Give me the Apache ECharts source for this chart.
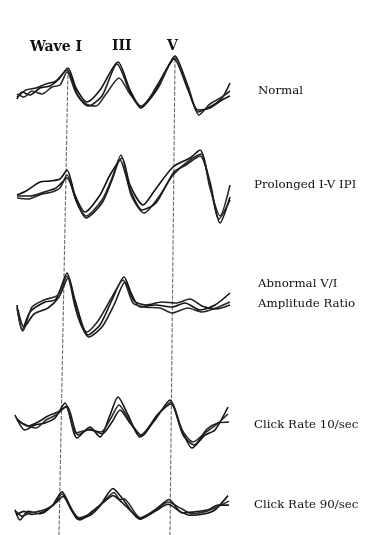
<!DOCTYPE html>
<html>
<head>
<meta charset="utf-8">
<script src="https://cdn.jsdelivr.net/npm/echarts@6/dist/echarts.min.js"></script>
<style>
  html, body { margin: 0; padding: 0; background: #fff; }
  #chart { width: 380px; height: 535px; }
</style>
</head>
<body>
<div id="chart"></div>
<script>
// latency in ms (0-11), amplitude in arbitrary units, 3 sweeps per condition
const conditions = ["Normal", "Prolonged I-V IPI", "Abnormal V/I\nAmplitude Ratio", "Click Rate 10/sec", "Click Rate 90/sec"];
const waveLabels = ["Wave I", "III", "V"];

const normal = [
  [[0.25,-1.1],[0.5,-0.4],[0.9,-0.7],[1.4,0],[1.9,0.2],[2.3,0.8],[2.8,2.0],[3.2,0],[3.75,-1.4],[4.4,-0.2],[5.3,2.6],[5.9,-0.2],[6.45,-1.9],[7.3,0],[8.15,3.2],[8.8,0],[9.3,-2.4],[9.9,-1.9],[10.5,-1.0],[10.9,0.5]],
  [[0.25,-0.6],[0.6,-0.9],[1.0,-0.3],[1.5,-0.6],[2.0,0.1],[2.4,0.3],[2.75,1.6],[3.2,-0.5],[3.7,-1.6],[4.2,-1.8],[4.7,-0.6],[5.35,1.0],[5.9,-0.6],[6.45,-1.8],[7.3,0.2],[8.15,3.0],[8.8,0.2],[9.35,-2.7],[9.9,-1.6],[10.5,-0.9],[10.9,-0.3]],
  [[0.25,-0.9],[0.7,-0.2],[1.2,0],[1.7,0.4],[2.2,0.7],[2.75,1.8],[3.3,-0.8],[3.8,-1.8],[4.5,-0.8],[5.25,2.4],[5.9,-0.4],[6.45,-2.0],[7.3,0.4],[8.1,2.9],[8.8,-0.2],[9.3,-2.2],[9.9,-2.0],[10.5,-1.2],[10.9,-0.8]]
];
const prolonged = [
  [[0.25,-0.5],[0.7,-0.1],[1.4,0.8],[1.9,0.9],[2.4,1.1],[2.75,2.0],[3.15,-0.5],[3.65,-2.2],[4.4,-0.5],[4.9,1.5],[5.5,3.2],[5.9,0.5],[6.55,-1.5],[7.15,0],[8.05,2.3],[8.9,3.2],[9.4,4.0],[9.9,0.5],[10.4,-3.3],[10.9,-0.7]],
  [[0.25,-0.8],[0.8,-0.9],[1.5,-0.4],[2.0,-0.2],[2.4,0.2],[2.75,1.5],[3.2,-1.0],[3.7,-2.6],[4.5,-1.0],[5.0,1.2],[5.45,3.5],[5.95,-0.5],[6.6,-2.3],[7.3,-0.8],[8.05,1.5],[8.9,3.0],[9.45,3.6],[9.9,0.2],[10.4,-2.6],[10.9,0.5]],
  [[0.25,-0.6],[0.9,-0.6],[1.6,-0.2],[2.2,0.2],[2.75,1.2],[3.25,-1.3],[3.7,-2.8],[4.5,-1.3],[5.0,1.0],[5.4,3.0],[5.9,0.1],[6.5,-2.0],[7.2,-1.3],[8.1,1.8],[8.7,2.5],[9.4,3.4],[9.9,0.8],[10.35,-2.9],[10.9,-1.0]]
];
const abnormalRatio = [
  [[0.25,0],[0.5,-2.5],[0.9,-0.7],[1.65,0.3],[2.15,0.5],[2.4,1.5],[2.75,3.2],[3.15,0.5],[3.8,-3.0],[4.4,-2.0],[5.0,0.5],[5.6,2.8],[6.0,1.0],[6.4,-0.2],[7.15,0],[8.0,-0.2],[8.65,0.2],[9.4,-0.5],[10.15,0],[10.9,1.2]],
  [[0.25,-0.3],[0.55,-2.6],[1.0,-0.2],[1.6,0.5],[2.3,1.0],[2.75,2.9],[3.2,-0.5],[3.75,-2.7],[4.3,-1.6],[5.0,0.8],[5.55,2.5],[6.05,0.2],[6.6,-0.2],[7.4,-0.3],[8.0,-0.8],[8.8,-0.3],[9.5,-0.7],[10.2,-0.3],[10.9,0.3]],
  [[0.3,-0.5],[0.6,-2.2],[1.1,-0.9],[1.8,-0.3],[2.35,0.8],[2.8,2.7],[3.3,-1.2],[3.85,-3.2],[4.5,-2.2],[5.1,0],[5.65,2.3],[6.1,0.4],[6.7,0],[7.5,0.3],[8.2,0.2],[8.9,0.6],[9.5,-0.1],[10.2,-0.4],[10.9,0]]
];
const rate10 = [
  [[0.15,0.5],[0.65,-1.0],[1.15,-0.5],[1.65,-0.3],[2.15,0.2],[2.65,1.7],[3.25,-1.8],[3.9,-0.7],[4.4,-1.7],[4.9,0.5],[5.3,2.3],[5.8,0.5],[6.4,-1.7],[7.15,0],[7.9,2.0],[8.4,-0.5],[9.0,-2.8],[9.65,-1.5],[10.15,-1.0],[10.8,1.3]],
  [[0.2,0.2],[0.6,-0.4],[1.2,-0.8],[1.7,0],[2.2,0.5],[2.7,1.3],[3.2,-1.3],[3.8,-1.0],[4.45,-1.2],[4.95,0.2],[5.35,1.5],[5.85,0],[6.45,-1.5],[7.2,0.3],[7.95,1.8],[8.5,-1.0],[9.05,-2.2],[9.7,-1.2],[10.2,-0.5],[10.8,0.6]],
  [[0.25,0],[0.8,-0.6],[1.3,-0.2],[1.8,0.4],[2.3,0.8],[2.75,1.4],[3.3,-1.5],[3.9,-0.9],[4.5,-1.4],[5.0,-0.2],[5.4,1.0],[5.9,-0.3],[6.5,-1.6],[7.25,0.5],[7.95,1.6],[8.55,-1.5],[9.1,-2.5],[9.75,-0.9],[10.3,-0.3],[10.85,-0.2]]
];
const rate90 = [
  [[0.15,-0.8],[0.4,-2.1],[0.8,-1.0],[1.4,-1.3],[2.0,-0.3],[2.5,1.5],[2.9,-0.3],[3.3,-2.0],[3.9,-1.5],[4.4,-0.3],[5.05,1.9],[5.5,0.7],[6.4,-2.0],[7.15,-1.0],[7.8,-0.1],[8.4,-1.0],[8.9,-1.5],[9.65,-1.3],[10.15,-0.8],[10.8,1.0]],
  [[0.2,-1.0],[0.5,-1.6],[0.9,-1.2],[1.5,-0.9],[2.1,-0.1],[2.5,1.2],[3.0,-0.8],[3.35,-1.8],[4.0,-1.2],[4.5,0],[5.1,1.4],[5.4,0.5],[5.6,0.6],[6.4,-1.8],[7.2,-0.8],[7.8,0.2],[8.5,-0.7],[9.0,-1.3],[9.7,-1.0],[10.2,-0.5],[10.85,0.3]],
  [[0.25,-1.4],[0.6,-1.0],[1.0,-1.4],[1.6,-1.0],[2.2,0.1],[2.55,0.9],[3.0,-1.0],[3.4,-2.1],[4.0,-1.0],[4.6,0.2],[5.05,1.0],[5.6,-0.1],[6.45,-1.9],[7.25,-0.6],[7.85,0.5],[8.5,-1.2],[9.0,-1.1],[9.8,-0.8],[10.3,-0.2],[10.85,-0.2]]
];
const panels = [normal, prolonged, abnormalRatio, rate10, rate90];

// the hand-drawn latency guides lean a little: [latency, 0 = bottom .. 1 = top]
const waveIGuide = [[2.8, 0.87], [2.35, 0]];
const waveVGuide = [[8.15, 0.89], [7.9, 0]];

const panelCenters = [88, 190, 305, 420, 512];
const labelCenters = [89, 183, 282, 423, 503];

const chart = echarts.init(document.getElementById("chart"));

const grids = [];
const xAxes = [];
const yAxes = [];
const series = [];

panelCenters.forEach((c, i) => {
  grids.push({ left: 12, width: 220, top: c - 40, height: 80 });
  xAxes.push({ type: "value", gridIndex: i, min: 0, max: 11, show: false });
  yAxes.push({ type: "value", gridIndex: i, min: -4, max: 4, show: false });
  panels[i].forEach((sweep, k) => {
    series.push({
      type: "line",
      xAxisIndex: i,
      yAxisIndex: i,
      data: sweep,
      smooth: 0.25,
      symbol: "none",
      silent: true,
      lineStyle: { color: ["#111", "#2a2a2a", "#1c1c1c"][k], width: 1.6 },
    });
  });
});

// overlay grid for the latency guides
grids.push({ left: 12, width: 220, top: 0, height: 535 });
xAxes.push({ type: "value", gridIndex: 5, min: 0, max: 11, show: false });
yAxes.push({ type: "value", gridIndex: 5, min: 0, max: 1, show: false });
[waveIGuide, waveVGuide].forEach((g) => {
  series.push({
    type: "line",
    xAxisIndex: 5,
    yAxisIndex: 5,
    data: g,
    symbol: "none",
    silent: true,
    z: 1,
    lineStyle: { color: "#6a6a6a", width: 1.1, type: [4, 1.5] },
  });
});

const serif = "'DejaVu Serif', 'Liberation Serif', serif";
const texts = [
  { left: 30, top: 37, text: waveLabels[0], font: "bold 14px " + serif },
  { left: 112, top: 36, text: waveLabels[1], font: "bold 14px " + serif },
  { left: 167, top: 36, text: waveLabels[2], font: "bold 14px " + serif },
];
conditions.forEach((t, i) => {
  const indent = i === 0 || i === 2 ? 258 : 254;
  texts.push({ left: indent, top: labelCenters[i] - 8, text: t, font: "11.8px " + serif });
});

chart.setOption({
  animation: false,
  backgroundColor: "#fff",
  grid: grids,
  xAxis: xAxes,
  yAxis: yAxes,
  series: series,
  graphic: texts.map((t) => ({
    type: "text",
    left: t.left,
    top: t.top,
    style: {
      text: t.text,
      fill: "#111",
      font: t.font,
      lineHeight: 20,
    },
  })),
});
</script>
</body>
</html>
